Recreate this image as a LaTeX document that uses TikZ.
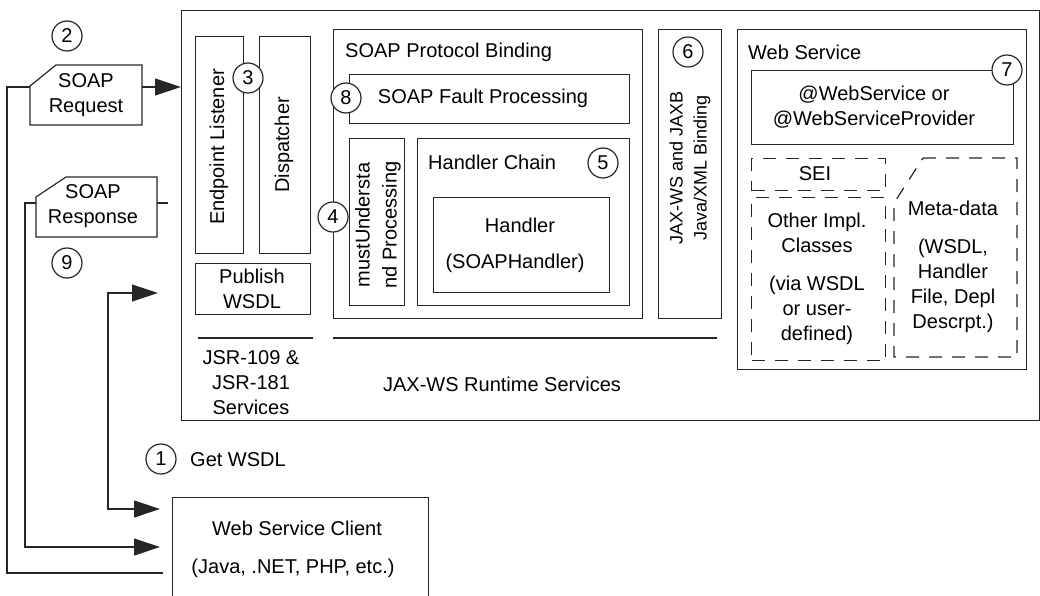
\documentclass[tikz,border=0pt]{standalone}
\usepackage{fontspec}
\setmainfont{Liberation Sans}
\usetikzlibrary{arrows.meta}
\newcommand\fs{\fontsize{20}{25}\selectfont}
\newcommand\fsm{\fontsize{18}{24}\selectfont}
\begin{document}
\begin{tikzpicture}[x={(1pt,0)},y={(0,-1pt)},
  ln/.style={line width=1.2pt, draw=black!85},
  box/.style={ln, rectangle, inner sep=0pt, anchor=north west},
  dashline/.style={line width=1.2pt, draw=black!85, dash pattern=on 13pt off 10pt},
  dbox/.style={box, dash pattern=on 13pt off 10pt},
  num/.style={circle, ln, fill=white, minimum size=30pt, inner sep=0pt, font=\fs},
  txt/.style={font=\fs, inner sep=0pt, align=center},
  arr/.style={ln, -{Triangle[length=26pt,width=17pt]}},
  plain/.style={ln}]
\useasboundingbox (0,0) rectangle (1040,596);
% ---- main containers
\node[box, minimum width=858pt, minimum height=410pt] (outer) at (181,10) {};
\node[box, minimum width=48pt, minimum height=217pt] (ep) at (195,36) {};
\node[box, minimum width=51pt, minimum height=217pt] (disp) at (259,36) {};
\node[box, minimum width=115pt, minimum height=51pt] (pub) at (195,263) {};
\node[box, minimum width=309pt, minimum height=289pt] (bind) at (333,29) {};
\node[box, minimum width=280pt, minimum height=49pt] (fault) at (349,74) {};
\node[box, minimum width=55pt, minimum height=167pt] (must) at (349,138) {};
\node[box, minimum width=212pt, minimum height=167pt] (chain) at (417,138) {};
\node[box, minimum width=176pt, minimum height=95pt] (hand) at (433,197) {};
\node[box, minimum width=63pt, minimum height=289pt] (jaxb) at (658,29) {};
\node[box, minimum width=289pt, minimum height=340pt] (ws) at (737,29) {};
\node[box, minimum width=262pt, minimum height=74pt] (anno) at (751,70) {};
\node[dbox, minimum width=134pt, minimum height=32pt] (sei) at (751,158) {};
\node[dbox, minimum width=134pt, minimum height=163pt] (impl) at (751,197) {};
\draw[dashline] (923,158) -- (1017,158) -- (1017,357) -- (894,357) -- (894,203) -- cycle;
\node[box, minimum width=256pt, minimum height=110pt] (client) at (172,497) {};
% ---- SOAP message shapes
\draw[ln] (56,65) -- (142,65) -- (142,125) -- (30,125) -- (30,86) -- cycle;
\draw[ln] (66,177) -- (157,177) -- (157,237) -- (36,237) -- (36,197) -- cycle;
\node[txt] (reqt) at (86,95) {SOAP\\Request};
\node[txt] (respt) at (93,206) {SOAP\\Response};
% ---- texts
\node[txt, rotate=90] (ept) at (219,147) {Endpoint Listener};
\node[txt, rotate=90] (dispt) at (284,145) {Dispatcher};
\node[txt] (pubt) at (252,289) {Publish\\WSDL};
\node[txt, anchor=west] (bindt) at (345,52) {SOAP Protocol Binding};
\node[txt] (faultt) at (483,98) {SOAP Fault Processing};
\node[txt, rotate=90] (mustt) at (378,225) {mustUndersta\\[2pt]nd Processing};
\node[txt, anchor=west] (chaint) at (428,162) {Handler Chain};
\node[txt] (handt1) at (520,225) {Handler};
\node[txt] (handt2) at (515,263) {(SOAPHandler)};
\node[txt, font=\fsm, rotate=90] (jaxbt) at (690,168) {JAX-WS and JAXB\\Java/XML Binding};
\node[txt, anchor=west] (wst) at (748,52) {Web Service};
\node[txt] (annot) at (874,107) {@WebService or\\@WebServiceProvider};
\node[txt] (seit) at (815,174) {SEI};
\node[txt] (implt1) at (817,233) {Other Impl.\\Classes};
\node[txt] (implt2) at (817,310) {(via WSDL\\or user-\\defined)};
\node[txt] (metat1) at (953,208) {Meta-data};
\node[txt] (metat2) at (953,286) {(WSDL,\\Handler\\File, Depl\\Descrpt.)};
\node[txt] (jsrt) at (251,383) {JSR-109 \&\\JSR-181\\Services};
\node[txt] (rtt) at (502,384) {JAX-WS Runtime Services};
\node[txt] (clt1) at (297,528) {Web Service Client};
\node[txt] (clt2) at (293,568) {(Java, .NET, PHP, etc.)};
\node[txt, anchor=west] (getw) at (190,460) {Get WSDL};
% ---- rules under groups
\coordinate (l1a) at (198,338); \coordinate (l1b) at (313,338);
\coordinate (l2a) at (333,338); \coordinate (l2b) at (717,338);
\draw[ln] (l1a) -- (l1b);
\draw[ln] (l2a) -- (l2b);
% ---- connectors
\coordinate (reqR) at (142,87);
\coordinate (reqL) at (30,87);
\coordinate (req1) at (7,87);
\coordinate (req2) at (7,573);
\coordinate (reqEnd) at (163,573);
\draw[arr] (reqR) -- (reqR -| outer.west);
\draw[ln] (reqL) -- (req1) -- (req2) -- (reqEnd);
\coordinate (respR) at (157,203);
\coordinate (respRe) at (168,203);
\coordinate (respL) at (36,203);
\coordinate (resp1) at (25,203);
\coordinate (resp2) at (25,547);
\coordinate (respEnd) at (160,547);
\draw[ln] (respR) -- (respRe);
\draw[arr] (respL) -- (resp1) -- (resp2) -- (respEnd);
\coordinate (gw0) at (158,293);
\coordinate (gw1) at (108,293);
\coordinate (gw2) at (108,509);
\coordinate (gw3) at (160,509);
\draw[ln, {Triangle[length=26pt,width=17pt]}-{Triangle[length=26pt,width=17pt]}] (gw0) -- (gw1) -- (gw2) -- (gw3);
% ---- numbered circles
\node[num] (n1) at (161,459) {1};
\node[num] (n2) at (67,36) {2};
\node[num] (n3) at (248,78) {3};
\node[num] (n4) at (333,217) {4};
\node[num] (n5) at (603,163) {5};
\node[num] (n6) at (688,52) {6};
\node[num] (n7) at (1007,70) {7};
\node[num] (n8) at (346,98) {8};
\node[num] (n9) at (67,263) {9};
\end{tikzpicture}
\end{document}
